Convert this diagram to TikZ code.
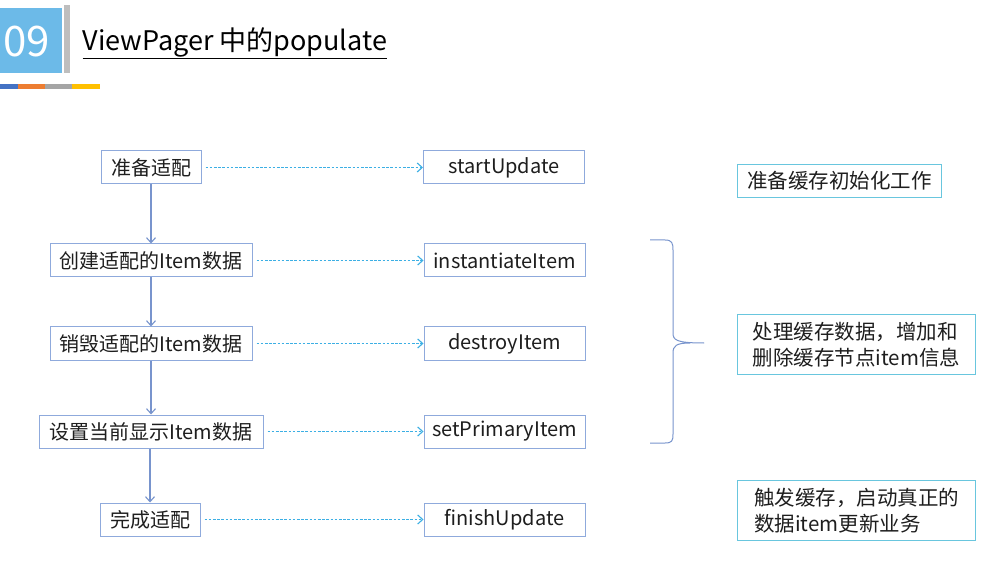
\documentclass[tikz,border=0pt]{standalone}
\usepackage{fontspec}
\setmainfont{Noto Sans CJK SC}
\usetikzlibrary{arrows.meta,calc}
\definecolor{sqblue}{RGB}{108,186,232}
\definecolor{bargray}{RGB}{190,190,190}
\definecolor{stBlue}{RGB}{68,114,196}
\definecolor{stOrange}{RGB}{237,125,49}
\definecolor{stGray}{RGB}{165,165,165}
\definecolor{stYellow}{RGB}{255,192,0}
\definecolor{boxline}{RGB}{143,170,220}
\definecolor{flowline}{RGB}{120,148,205}
\definecolor{dashblue}{RGB}{60,175,228}
\definecolor{noteline}{RGB}{105,198,222}
\definecolor{txt}{RGB}{30,30,30}
\tikzset{
  stepbox/.style={draw=boxline, line width=1pt, minimum height=33pt, inner sep=0pt, text=txt, font=\fontsize{20}{22}\selectfont},
  apibox/.style={stepbox, minimum width=161pt},
  notebox/.style={draw=noteline, line width=1.2pt, align=left, inner xsep=6pt, inner ysep=4pt, text=txt, font=\fontsize{20.5}{26}\selectfont, anchor=north west},
  flow/.style={draw=flowline, line width=1.1pt, -{Straight Barb[length=5pt,width=9pt]}},
  call/.style={draw=dashblue, line width=1.1pt, dash pattern=on 2.6pt off 1.6pt, shorten <=4pt, -{Straight Barb[length=5pt,width=9pt]}}
}
\begin{document}
\begin{tikzpicture}[x=1pt,y=-1pt]
\useasboundingbox[fill=white] (0,0) rectangle (996,569);
% header
\fill[sqblue] (0,8) rectangle (62,73);
\node[text=white, font=\fontsize{42}{44}\selectfont] (num) at (27,42) {09};
\fill[bargray] (64,5) rectangle (70,73);
\node[anchor=west, text=black, font=\fontsize{27}{30}\selectfont] (title) at (79,43) {\underline{ViewPager 中的populate}};
\fill[stBlue] (0,84) rectangle (18,89);
\fill[stOrange] (18,84) rectangle (45,89);
\fill[stGray] (45,84) rectangle (72,89);
\fill[stYellow] (72,84) rectangle (100,89);
% left flow
\node[stepbox, minimum width=100pt] (a1) at (151,167.5) {准备适配};
\node[stepbox, minimum width=202pt] (a2) at (151,260.5) {创建适配的Item数据};
\node[stepbox, minimum width=202pt] (a3) at (151,343.5) {销毁适配的Item数据};
\node[stepbox, minimum width=224pt] (a4) at (151,431.5) {设置当前显示Item数据};
\node[stepbox, minimum width=100pt] (a5) at (150,519.5) {完成适配};
% right api
\node[apibox] (b1) at (504,167.5) {startUpdate};
\node[apibox] (b2) at (504.5,260.5) {instantiateItem};
\node[apibox] (b3) at (504.5,343.5) {destroyItem};
\node[apibox] (b4) at (504.5,431.5) {setPrimaryItem};
\node[apibox] (b5) at (504.5,519.5) {finishUpdate};
% flow arrows
\draw[flow] (a1) -- (a2);
\draw[flow] (a2) -- (a3);
\draw[flow] (a3) -- (a4);
\draw[flow] (a4.south -| a5.north) -- (a5.north);
% dashed calls
\draw[call] (a1) -- (b1);
\draw[call] (a2) -- (b2);
\draw[call] (a3) -- (b3);
\draw[call] (a4) -- (b4);
\draw[call] (a5) -- (b5);
% brace
\draw[flowline, line width=1pt] (650,240) -- (665,240) .. controls (672,240) and (673,243) .. (673,250)
  -- (673,333) .. controls (673,340) and (676,343) .. (704,343)
  (673,353) .. controls (673,346) and (676,343) .. (690,343)
  (673,353) -- (673,434) .. controls (673,441) and (672,443) .. (665,443) -- (650,443);
% notes
\node[notebox, minimum width=204pt, minimum height=33pt] (n1) at (737,164) {准备缓存初始化工作};
\node[notebox, minimum width=238pt, minimum height=60pt] (n2) at (737,314) {处理缓存数据，增加和\\删除缓存节点item信息};
\node[notebox, minimum width=238pt, minimum height=60pt] (n3) at (737,480) {触发缓存，启动真正的\\数据item更新业务};
\end{tikzpicture}
\end{document}
